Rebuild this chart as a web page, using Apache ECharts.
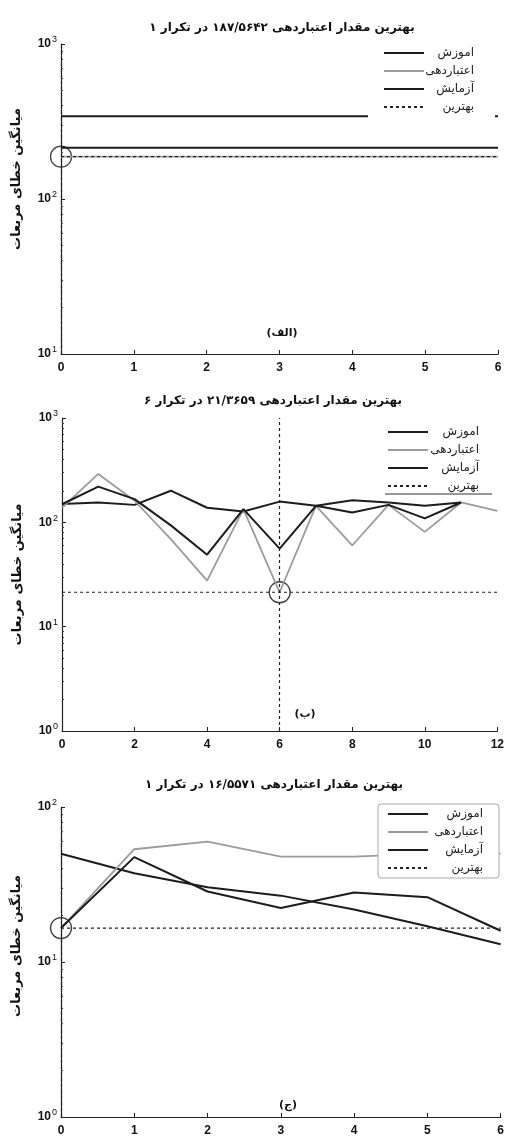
<!DOCTYPE html>
<html>
<head>
<meta charset="utf-8">
<script src="https://cdn.jsdelivr.net/npm/echarts@6/dist/echarts.min.js"></script>
<style>
  html, body { margin: 0; padding: 0; background: #fff; }
  #chart { width: 507px; height: 1142px; }
</style>
</head>
<body>
<div id="chart"></div>
<script>
// ---- data ----
const legendNames = ["اموزش", "اعتباردهی", "آزمایش", "بهترین"];
const titles = [
  "بهترین مقدار اعتباردهی ۱۸۷/۵۶۴۲ در تکرار ۱",
  "بهترین مقدار اعتباردهی ۲۱/۳۶۵۹ در تکرار ۶",
  "بهترین مقدار اعتباردهی ۱۶/۵۵۷۱ در تکرار ۱"
];
const panelTags = ["(الف)", "(ب)", "(ج)"];
const yName = "میانگین خطای مربعات";

// panel (الف)
const epochsA = [0, 1, 2, 3, 4, 5, 6];
const trainA = [342, 342, 342, 342, 342, 342, 342];
const validA = [187.5642, 187.5642, 187.5642, 187.5642, 187.5642, 187.5642, 187.5642];
const testA = [214, 214, 214, 214, 214, 214, 214];
const bestA = [0, 187.5642]; // [epoch, value]

// panel (ب)
const epochsB = [0, 1, 2, 3, 4, 5, 6, 7, 8, 9, 10, 11, 12];
const trainB = [150, 155, 147, 201, 138, 127, 158, 144, 163, 155, 144, 155];
const validB = [138, 291, 161, 69, 27.6, 134, 21.3659, 144, 60, 147, 81, 155, 129];
const testB = [149, 220, 167, 93.5, 49, 134, 56, 144, 124, 147, 109, 155];
const bestB = [6, 21.3659];

// panel (ج)
const epochsC = [0, 1, 2, 3, 4, 5, 6];
const trainC = [49.9, 37.4, 30.4, 26.8, 21.8, 17, 13];
const validC = [16.5571, 53.4, 59.8, 47.9, 47.9, 50, 50];
const testC = [16.5571, 47.5, 28.5, 22.3, 28.1, 26.2, 15.9];
const bestC = [0, 16.5571];

// axis ranges
const xMax = [6, 12, 6];
const xStep = [1, 2, 1];
const yMin = [10, 1, 1];
const yMax = [1000, 1000, 100];

// ---- layout ----
const grids = [
  { left: 61, top: 44, width: 437, height: 310 },
  { left: 62, top: 418, width: 440, height: 313 },
  { left: 61, top: 807, width: 441, height: 310 }
];
const titleTop = [17, 390, 774];
const titleX = [277, 268, 269];
const tagPos = [[277, 323], [300, 704], [283, 1095]];
const nameShift = [40, 0, 32]; // moves the rotated axis name up
const legendPos = [
  { left: 368, top: 42, padding: [5, 21, 10, 15], textW: 45, border: false },
  { left: 372, top: 423, padding: [3, 22, 3, 15], textW: 46, border: false },
  { left: 378, top: 804, padding: [4, 16, 4, 9], textW: 50, border: true }
];

const BLACK = "#1c1c1c";
const GRAY = "#9b9b9b";
const FONT = "Liberation Sans";
const FA_FONT = "DejaVu Sans";

const panels = [
  { epochs: epochsA, train: trainA, valid: validA, test: testA, best: bestA },
  { epochs: epochsB, train: trainB, valid: validB, test: testB, best: bestB },
  { epochs: epochsC, train: trainC, valid: validC, test: testC, best: bestC }
];

function pairs(xs, ys) {
  return ys.map((v, i) => [xs[i], v]);
}

var myChart = echarts.init(document.getElementById("chart"));

let title = [];
let legend = [];
let xAxis = [];
let yAxis = [];
let series = [];

panels.forEach((p, i) => {
  title.push({
    text: titles[i],
    left: titleX[i],
    top: titleTop[i],
    textAlign: "center",
    textStyle: { fontFamily: FA_FONT, fontSize: 12, fontWeight: "bold", color: "#111" }
  });
  title.push({
    text: panelTags[i],
    left: tagPos[i][0],
    top: tagPos[i][1],
    textAlign: "center",
    textStyle: { fontFamily: FA_FONT, fontSize: 11, fontWeight: "bold", color: "#111" }
  });

  const lp = legendPos[i];
  legend.push({
    orient: "vertical",
    left: lp.left,
    top: lp.top,
    padding: lp.padding,
    itemGap: 6,
    itemWidth: 40,
    itemHeight: 12,
    selectedMode: false,
    backgroundColor: "#fff",
    borderColor: lp.border ? "#aaa" : "transparent",
    borderWidth: lp.border ? 1 : 0,
    borderRadius: 3,
    itemStyle: { opacity: 0 },
    data: legendNames,
    formatter: "{a|{name}}",
    textStyle: {
      rich: {
        a: { width: lp.textW, align: "right", fontSize: 12, lineHeight: 14, fontFamily: FA_FONT, color: "#222" }
      }
    }
  });

  xAxis.push({
    type: "value",
    gridIndex: i,
    min: 0,
    max: xMax[i],
    interval: xStep[i],
    splitLine: { show: false },
    axisLine: { onZero: false, lineStyle: { color: "#222", width: 1.2 } },
    axisTick: { inside: true, length: 4, lineStyle: { color: "#222" } },
    axisLabel: { color: "#111", fontFamily: FONT, fontWeight: "bold", fontSize: 12, margin: 8 }
  });

  yAxis.push({
    type: "log",
    logBase: 10,
    gridIndex: i,
    min: yMin[i],
    max: yMax[i],
    name: yName,
    nameLocation: "middle",
    nameGap: 38,
    nameTextStyle: {
      fontFamily: FA_FONT, fontSize: 13, fontWeight: "bold", color: "#111",
      padding: [0, 0, 0, nameShift[i]]
    },
    splitLine: { show: false },
    axisLine: { show: true, lineStyle: { color: "#222", width: 1.2 } },
    axisTick: { inside: true, length: 4, lineStyle: { color: "#222" } },
    minorTick: { show: true, splitNumber: 9, length: 2, lineStyle: { color: "#444" } },
    axisLabel: {
      margin: 4,
      formatter: function (v) {
        return "{b|10}{s|" + Math.round(Math.log10(v)) + "}";
      },
      rich: {
        b: { fontFamily: FONT, fontWeight: "bold", fontSize: 12, color: "#111" },
        s: { fontFamily: FONT, fontSize: 9, color: "#111", padding: [0, 0, 8, 1] }
      }
    }
  });

  series.push({
    name: legendNames[0], type: "line", xAxisIndex: i, yAxisIndex: i,
    data: pairs(p.epochs, p.train), symbol: "none",
    lineStyle: { color: BLACK, width: 2 }, itemStyle: { color: BLACK }
  });
  series.push({
    name: legendNames[1], type: "line", xAxisIndex: i, yAxisIndex: i,
    data: pairs(p.epochs, p.valid), symbol: "none",
    lineStyle: { color: GRAY, width: 1.8 }, itemStyle: { color: GRAY }
  });
  series.push({
    name: legendNames[2], type: "line", xAxisIndex: i, yAxisIndex: i,
    data: pairs(p.epochs, p.test), symbol: "none",
    lineStyle: { color: BLACK, width: 2 }, itemStyle: { color: BLACK }
  });
  series.push({
    name: legendNames[3], type: "line", xAxisIndex: i, yAxisIndex: i,
    data: [[0, p.best[1]], [xMax[i], p.best[1]]], symbol: "none",
    lineStyle: { color: "#222", width: 1.2, type: [3, 3] }, itemStyle: { color: "#222" },
    markLine: {
      silent: true,
      symbol: ["none", "none"],
      label: { show: false },
      lineStyle: { color: "#222", width: 1.2, type: [3, 3] },
      data: [{ xAxis: p.best[0] }]
    }
  });
  series.push({
    name: "best-point", type: "scatter", xAxisIndex: i, yAxisIndex: i,
    data: [p.best], symbol: "circle", symbolSize: 21, silent: true,
    itemStyle: { color: "rgba(0,0,0,0)", borderColor: "#111", borderWidth: 1.3 }
  });
});

let option = {
  animation: false,
  backgroundColor: "#fff",
  title: title,
  legend: legend,
  grid: grids,
  xAxis: xAxis,
  yAxis: yAxis,
  series: series,
  // thin rule under the legend of panel (ب)
  graphic: [{
    type: "line",
    shape: { x1: 385, y1: 494, x2: 492, y2: 494 },
    style: { stroke: "#333", lineWidth: 1 },
    z: 100
  }]
};

myChart.setOption(option);
</script>
</body>
</html>
